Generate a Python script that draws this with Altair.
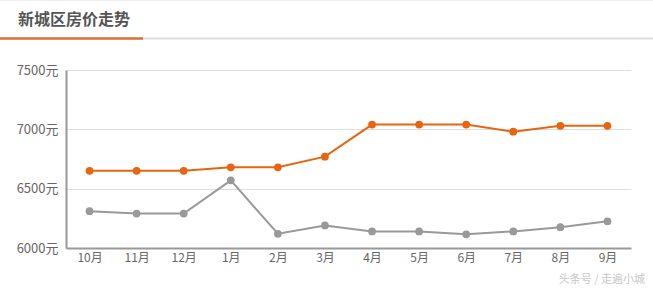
import altair as alt
import pandas as pd

months = ["10月", "11月", "12月", "1月", "2月", "3月", "4月", "5月", "6月", "7月", "8月", "9月"]
series_a = [6650, 6650, 6650, 6680, 6680, 6770, 7040, 7040, 7040, 6980, 7030, 7030]
series_b = [6310, 6290, 6290, 6570, 6120, 6190, 6140, 6140, 6115, 6140, 6175, 6225]
y_ticks = [6000, 6500, 7000, 7500]
title_text = "新城区房价走势"
watermark = "头条号 / 走遍小城"

rows = []
for m, a, b in zip(months, series_a, series_b):
    rows.append({"month": m, "series": "新城区", "value": a})
    rows.append({"month": m, "series": "对比", "value": b})
df = pd.DataFrame(rows)

FONT = "Noto Sans CJK SC"

x_enc = alt.X("month:N", sort=months, title=None,
              scale=alt.Scale(type="point", padding=0.5),
              axis=alt.Axis(labelAngle=0, labelColor="#666", labelFontSize=12, labelFont=FONT,
                            ticks=False, labelPadding=4, domainColor="#999", domainWidth=2,
                            grid=False))
y_enc = alt.Y("value:Q", title=None,
              scale=alt.Scale(domain=[6000, 7500], nice=False, zero=False),
              axis=alt.Axis(values=y_ticks, labelExpr="datum.value + '元'", labelColor="#666",
                            labelFontSize=13, labelFont=FONT, ticks=False, labelPadding=8,
                            domainColor="#999", domainWidth=2, gridColor="#dddddd", gridWidth=1))
color_enc = alt.Color("series:N", legend=None,
                      scale=alt.Scale(domain=["新城区", "对比"], range=["#e8650f", "#999999"]))

base = alt.Chart(df)
lines = base.mark_line(strokeWidth=2).encode(x=x_enc, y=y_enc, color=color_enc)
points = base.mark_circle(size=60, opacity=1).encode(x=x_enc, y=y_enc, color=color_enc)

one = alt.Data(values=[{}])
title = alt.Chart(one).mark_text(text=title_text, font=FONT, fontSize=16, fontWeight="bold",
                                 color="#555", align="left", baseline="middle").encode(
    x=alt.value(-48), y=alt.value(-50))
gray_line = alt.Chart(one).mark_rule(color="#dddddd", strokeWidth=2).encode(
    x=alt.value(-66), x2=alt.value(587), y=alt.value(-31.5))
orange_line = alt.Chart(one).mark_rule(color="#d9733a", strokeWidth=2.5).encode(
    x=alt.value(-66), x2=alt.value(77), y=alt.value(-31.5))
top_border = alt.Chart(one).mark_rule(color="#eeeeee", strokeWidth=1).encode(
    x=alt.value(-66), x2=alt.value(587), y=alt.value(-69.5))
wm = alt.Chart(one).mark_text(text=watermark, font=FONT, fontSize=11, color="#c8c8c8",
                              align="right", baseline="middle").encode(
    x=alt.value(579), y=alt.value(210))

chart = alt.layer(top_border, gray_line, orange_line, title, lines, points, wm).properties(
    width=565, height=178,
    autosize=alt.AutoSizeParams(type="none"),
    padding={"left": 66, "top": 70, "right": 22, "bottom": 40},
    background="white",
).configure_view(stroke=None)

chart.save("out.html", embed_options={"renderer": "svg", "actions": False})
